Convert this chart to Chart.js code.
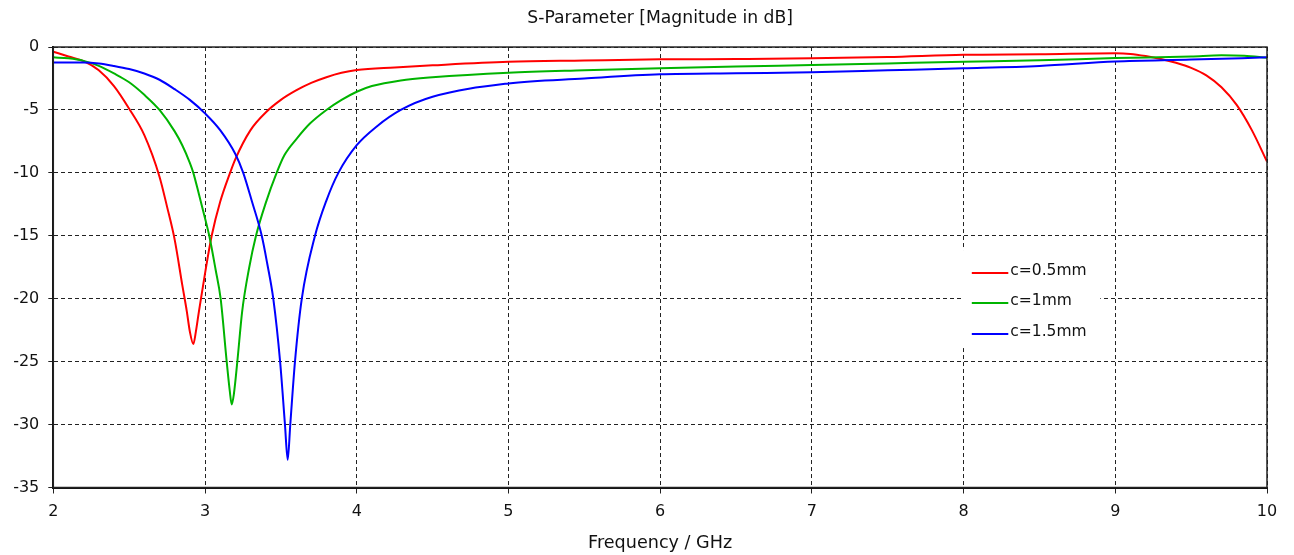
<!DOCTYPE html>
<html>
<head>
<meta charset="utf-8">
<script src="https://cdn.jsdelivr.net/npm/chart.js@4/dist/chart.umd.min.js"></script>
<style>
  html, body { margin: 0; padding: 0; background: #fff; }
  #wrap { width: 1294px; height: 555px; }
</style>
</head>
<body>
<div id="wrap"><canvas id="sparam" width="1294" height="555"></canvas></div>
<script>
// Frequency samples (GHz) and |S11| (dB) for each slot width c
const freqC05 = [2.00, 2.10, 2.20, 2.30, 2.40, 2.50, 2.60, 2.70, 2.75, 2.80, 2.85, 2.88, 2.90, 2.923, 2.94, 2.96, 2.98, 3.00, 3.044, 3.10, 3.165, 3.20, 3.30, 3.40, 3.50, 3.60, 3.70, 3.80, 3.90, 4.00, 4.25, 4.50, 5.00, 5.50, 6.00, 6.50, 7.00, 7.50, 8.00, 8.50, 9.00, 9.10, 9.20, 9.30, 9.40, 9.50, 9.60, 9.70, 9.80, 9.90, 10.00];
const s11C05  = [-0.37, -0.75, -1.12, -1.85, -3.1, -4.9, -7.0, -10.3, -12.7, -15.3, -18.9, -21.0, -22.6, -23.6, -22.6, -21.0, -19.5, -18.0, -15.0, -12.3, -10.0, -8.9, -6.6, -5.2, -4.2, -3.45, -2.85, -2.4, -2.05, -1.83, -1.62, -1.45, -1.17, -1.07, -0.98, -0.95, -0.90, -0.80, -0.62, -0.58, -0.50, -0.55, -0.72, -0.95, -1.25, -1.65, -2.25, -3.2, -4.6, -6.6, -9.1];

const freqC1 = [2.00, 2.10, 2.20, 2.30, 2.40, 2.50, 2.60, 2.70, 2.80, 2.85, 2.90, 2.923, 2.96, 3.00, 3.028, 3.07, 3.103, 3.143, 3.163, 3.176, 3.19, 3.213, 3.245, 3.29, 3.336, 3.40, 3.472, 3.523, 3.61, 3.69, 3.80, 3.90, 4.00, 4.10, 4.29, 4.50, 5.00, 5.50, 6.00, 6.50, 7.00, 7.50, 8.00, 8.50, 9.00, 9.50, 9.70, 9.85, 10.00];
const s11C1  = [-0.82, -0.90, -1.1, -1.5, -2.1, -2.8, -3.8, -5.0, -6.7, -7.8, -9.2, -10.0, -11.7, -13.6, -15.0, -17.7, -20.0, -25.0, -27.3, -28.4, -27.6, -25.0, -21.0, -17.6, -15.0, -12.4, -10.0, -8.6, -7.2, -6.1, -5.0, -4.2, -3.55, -3.1, -2.65, -2.4, -2.04, -1.85, -1.69, -1.55, -1.43, -1.30, -1.17, -1.05, -0.88, -0.75, -0.66, -0.70, -0.85];

const freqC15 = [2.00, 2.20, 2.30, 2.40, 2.50, 2.60, 2.70, 2.80, 2.90, 3.00, 3.10, 3.20, 3.252, 3.31, 3.374, 3.41, 3.45, 3.495, 3.527, 3.545, 3.562, 3.593, 3.638, 3.725, 3.80, 3.879, 4.00, 4.13, 4.29, 4.50, 5.00, 5.50, 6.00, 6.50, 7.00, 7.50, 8.00, 8.50, 9.00, 9.50, 10.00];
const s11C15  = [-1.22, -1.22, -1.30, -1.5, -1.75, -2.1, -2.6, -3.35, -4.2, -5.27, -6.6, -8.5, -10.0, -12.3, -15.0, -17.2, -20.0, -25.0, -30.0, -32.8, -30.0, -25.0, -20.0, -15.0, -12.2, -10.0, -7.8, -6.33, -5.0, -3.95, -2.89, -2.5, -2.17, -2.08, -2.01, -1.85, -1.69, -1.5, -1.15, -1.0, -0.82];

const seriesLabels = ['c=0.5mm', 'c=1mm', 'c=1.5mm'];
const seriesColors = ['#ff0000', '#00b400', '#0000ff'];

const xTicks = [2, 3, 4, 5, 6, 7, 8, 9, 10];
const yTicks = [0, -5, -10, -15, -20, -25, -30, -35];

const FONT = 'DejaVu Sans, Verdana, sans-serif';

function toPoints(xs, ys) {
  return xs.map((x, i) => ({ x: x, y: ys[i] }));
}

// Solid frame around the plot area (top and right edges)
const framePlugin = {
  id: 'frame',
  afterDatasetsDraw(chart) {
    const { ctx, chartArea: a } = chart;
    ctx.save();
    ctx.strokeStyle = '#222';
    ctx.lineWidth = 1.5;
    ctx.strokeRect(a.left, a.top, a.right - a.left, a.bottom - a.top);
    ctx.restore();
  }
};

// Boxed legend placed inside the plot area
const innerLegend = {
  id: 'innerLegend',
  afterDatasetsDraw(chart) {
    const { ctx, chartArea: a } = chart;
    const box = { x: a.left + 909, y: a.top + 203, w: 138, h: 98 };
    const rows = [226, 256, 287];
    ctx.save();
    ctx.fillStyle = '#fff';
    ctx.fillRect(box.x, box.y, box.w, box.h);
    ctx.font = '15.5px ' + FONT;
    ctx.textBaseline = 'middle';
    ctx.textAlign = 'left';
    chart.data.datasets.forEach((ds, i) => {
      const y = a.top + rows[i];
      ctx.strokeStyle = ds.borderColor;
      ctx.lineWidth = 2;
      ctx.beginPath();
      ctx.moveTo(a.left + 918.5, y);
      ctx.lineTo(a.left + 955, y);
      ctx.stroke();
      ctx.fillStyle = '#111';
      ctx.fillText(ds.label, a.left + 957, y - 2);
    });
    ctx.restore();
  }
};

const datasets = [
  { label: seriesLabels[0], data: toPoints(freqC05, s11C05), borderColor: seriesColors[0], order: 2 },
  { label: seriesLabels[1], data: toPoints(freqC1, s11C1), borderColor: seriesColors[1], order: 1 },
  { label: seriesLabels[2], data: toPoints(freqC15, s11C15), borderColor: seriesColors[2], order: 0 }
].map(d => Object.assign(d, {
  borderWidth: 2,
  pointRadius: 0,
  fill: false,
  cubicInterpolationMode: 'monotone'
}));

new Chart(document.getElementById('sparam'), {
  type: 'line',
  data: { datasets: datasets },
  plugins: [framePlugin, innerLegend],
  options: {
    responsive: false,
    animation: false,
    layout: { padding: { left: 0, right: 27, top: 0, bottom: 0 } },
    plugins: {
      legend: { display: false },
      tooltip: { enabled: false },
      title: {
        display: true,
        fullSize: false,
        text: 'S-Parameter [Magnitude in dB]',
        color: '#111',
        font: { family: FONT, size: 17.2, weight: 'normal' },
        padding: { top: 8, bottom: 18.4 }
      }
    },
    scales: {
      x: {
        type: 'linear',
        min: 2,
        max: 10,
        afterBuildTicks(scale) { scale.ticks = xTicks.map(v => ({ value: v })); },
        afterFit(scale) { scale.height = 67.5; },
        ticks: {
          color: '#111',
          font: { family: FONT, size: 16 },
          padding: 9,
          maxRotation: 0
        },
        grid: {
          color: '#222',
          lineWidth: 1,
          tickLength: 6,
          tickColor: '#222',
          tickBorderDash: []
        },
        border: { display: true, color: '#111', width: 2, dash: [4, 3] },
        title: {
          display: true,
          text: 'Frequency / GHz',
          color: '#111',
          font: { family: FONT, size: 17.6 },
          padding: { top: 0, bottom: 1 }
        }
      },
      y: {
        type: 'linear',
        min: -35,
        max: 0,
        afterBuildTicks(scale) { scale.ticks = yTicks.map(v => ({ value: v })); },
        afterFit(scale) { scale.width = 53.3; },
        ticks: {
          color: '#111',
          font: { family: FONT, size: 16 },
          padding: 9
        },
        grid: {
          color: '#222',
          lineWidth: 1,
          tickLength: 5,
          tickColor: '#222',
          tickBorderDash: []
        },
        border: { display: true, color: '#111', width: 2, dash: [4, 3] }
      }
    }
  }
});
</script>
</body>
</html>
